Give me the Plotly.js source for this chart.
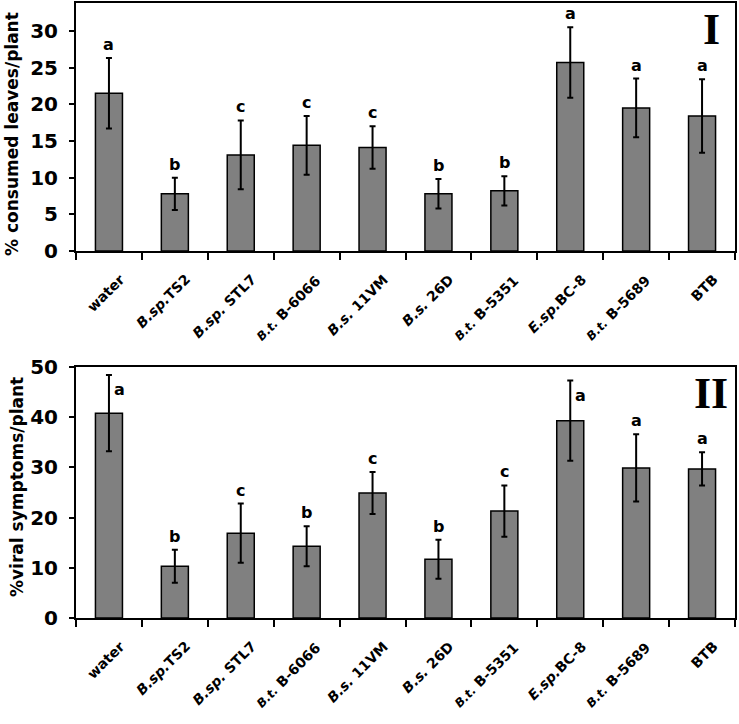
<!DOCTYPE html>
<html>
<head>
<meta charset="utf-8">
<script src="https://cdn.plot.ly/plotly-3.0.1.min.js"></script>
</head>
<body style="margin:0;background:#fff">
<div id="chart" style="width:739px;height:724px"></div>
<script>
const categories = ['water','B.sp.TS2','B.sp.STL7','B.t.B-6066','B.s.11VM','B.s.26D','B.t.B-5351','E.sp.BC-8','B.t.B-5689','BTB'];
const tickLabels = ['<b>water</b>','<b><i>B.sp.</i>TS2</b>','<b><i>B.sp.</i> STL7</b>','<b><i><span style="font-size:12px">B.t.</span></i> B-6066</b>','<b><i>B.s.</i> 11VM</b>','<b><i>B.s.</i> 26D</b>','<b><i><span style="font-size:12px">B.t.</span></i> B-5351</b>','<b><i>E.sp.</i>BC-8</b>','<b><i><span style="font-size:12px">B.t.</span></i> B-5689</b>','<b>BTB</b>'];

const consumed = [21.5, 7.8, 13.1, 14.4, 14.1, 7.8, 8.2, 25.7, 19.5, 18.4];
const consumedErr = [4.8, 2.2, 4.7, 4.0, 2.9, 2.0, 2.0, 4.8, 4.0, 5.0];
const consumedLetters = ['a','b','c','c','c','b','b','a','a','a'];
const consumedTicks = [0, 5, 10, 15, 20, 25, 30];

const viral = [40.8, 10.3, 16.9, 14.3, 24.9, 11.7, 21.3, 39.3, 29.9, 29.7];
const viralErr = [7.6, 3.3, 5.9, 4.0, 4.2, 3.9, 5.1, 8.0, 6.7, 3.3];
const viralLetters = ['a','b','c','b','c','b','c','a','a','a'];
const viralLetterSide = [true,false,false,false,false,false,false,true,false,false];
const viralTicks = [0, 10, 20, 30, 40, 50];

const WIDE = 'DejaVu Sans, Verdana, sans-serif';
const barStyle = {color:'#808080', line:{color:'#000', width:1.5}};
const errStyle = {type:'data', visible:true, color:'#000', thickness:2, width:3};

const traces = [
  {type:'bar', x:categories, y:consumed, xaxis:'x', yaxis:'y', marker:barStyle,
   error_y:Object.assign({array:consumedErr}, errStyle), hoverinfo:'none'},
  {type:'bar', x:categories, y:viral, xaxis:'x2', yaxis:'y2', marker:barStyle,
   error_y:Object.assign({array:viralErr}, errStyle), hoverinfo:'none'}
];

// measure label length so a centre-anchored rotated label ends at the category
const ctx = document.createElement('canvas').getContext('2d');
ctx.font = 'bold 14px "DejaVu Sans"';
function labelLen(html){ return ctx.measureText(html.replace(/<[^>]+>/g,'')).width; }

const letterFont = {family:WIDE, size:16, color:'#000'};
const labelFont = {family:WIDE, size:14, color:'#000'};
const annotations = [];
categories.forEach((c,i)=>{
  annotations.push({xref:'x', yref:'y', x:c, y:consumed[i]+consumedErr[i], text:'<b>'+consumedLetters[i]+'</b>',
    showarrow:false, xanchor:'center', yanchor:'bottom', yshift:2, font:letterFont});
  if (viralLetterSide[i]) {
    annotations.push({xref:'x2', yref:'y2', x:c, y:viral[i]+viralErr[i], text:'<b>'+viralLetters[i]+'</b>',
      showarrow:false, xanchor:'left', yanchor:'top', xshift:3, yshift:-3, font:letterFont});
  } else {
    annotations.push({xref:'x2', yref:'y2', x:c, y:viral[i]+viralErr[i], text:'<b>'+viralLetters[i]+'</b>',
      showarrow:false, xanchor:'center', yanchor:'bottom', yshift:2, font:letterFont});
  }
  const half = 0.354 * labelLen(tickLabels[i]);
  [['x','y'],['x2','y2']].forEach(([xr,yr])=>{
    annotations.push({xref:xr, yref:yr, x:c, y:0, text:tickLabels[i], textangle:-45, showarrow:false,
      xshift:13 - half, yshift:-(26 + half), font:labelFont});
  });
});
const romanFont = {family:'Liberation Serif, Times New Roman, serif', size:44, color:'#000'};
annotations.push({xref:'paper', yref:'paper', x:711/739, y:1-30/724, text:'<b>I</b>', showarrow:false,
  xanchor:'center', yanchor:'middle', font:romanFont});
annotations.push({xref:'paper', yref:'paper', x:711/739, y:1-393/724, text:'<b>II</b>', showarrow:false,
  xanchor:'center', yanchor:'middle', font:romanFont});
annotations.push({xref:'paper', yref:'paper', x:12/739, y:1-134/724, text:'<b>% consumed leaves/plant</b>', textangle:-90,
  showarrow:false, xanchor:'center', yanchor:'middle', font:{family:WIDE, size:17, color:'#000'}});
annotations.push({xref:'paper', yref:'paper', x:17/739, y:1-487/724, text:'<b>%viral symptoms/plant</b>', textangle:-90,
  showarrow:false, xanchor:'center', yanchor:'middle', font:{family:WIDE, size:17, color:'#000'}});

const boundaryTicks = categories.map((c,i)=>i-0.5).concat([categories.length-0.5]);
const xCommon = {type:'category', showticklabels:false, tickmode:'array', tickvals:boundaryTicks,
  ticks:'outside', ticklen:7, tickwidth:1.5, tickcolor:'#000', range:[-0.5, categories.length-0.5],
  showline:true, linewidth:2, linecolor:'#000', mirror:true, showgrid:false, zeroline:false,
  domain:[76/739, 735/739], fixedrange:true};
const yCommon = {ticks:'outside', ticklen:5, tickwidth:1.5, tickcolor:'#000', showline:true, linewidth:2,
  linecolor:'#000', mirror:true, showgrid:false, zeroline:false, fixedrange:true,
  tickmode:'array', tickfont:{family:WIDE, size:20, color:'#000'}};

const layout = {
  width:739, height:724, margin:{l:0, r:0, t:0, b:0}, paper_bgcolor:'#fff', plot_bgcolor:'#fff',
  showlegend:false, bargap:0.59,
  xaxis:Object.assign({}, xCommon, {anchor:'y'}),
  xaxis2:Object.assign({}, xCommon, {anchor:'y2'}),
  yaxis:Object.assign({}, yCommon, {anchor:'x', range:[0,33.8], tickvals:consumedTicks,
    ticktext:consumedTicks.map(v=>'<b>'+v+' </b>'), domain:[1-251/724, 1-3/724]}),
  yaxis2:Object.assign({}, yCommon, {anchor:'x2', range:[0,50], tickvals:viralTicks,
    ticktext:viralTicks.map(v=>'<b>'+v+' </b>'), domain:[1-618/724, 1-367/724]}),
  annotations:annotations
};

Plotly.newPlot('chart', traces, layout, {displayModeBar:false});
</script>
</body>
</html>
